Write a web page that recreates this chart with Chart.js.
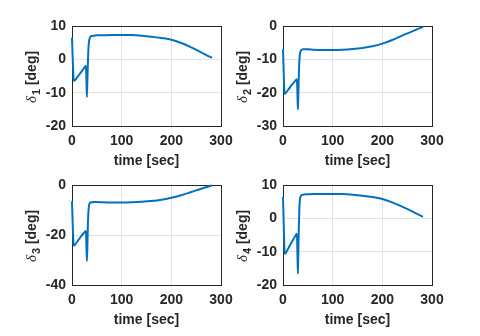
<!DOCTYPE html>
<html>
<head>
<meta charset="utf-8">
<script src="https://cdn.jsdelivr.net/npm/chart.js@4"></script>
<style>
  body { margin: 0; background: #fff; }
  #wrap { position: relative; width: 480px; height: 336px; overflow: hidden; }
  .box { position: absolute; width: 240px; height: 174px; }
</style>
</head>
<body>
<div id="wrap">
  <div class="box" style="left:0px;top:0px"><canvas id="c1"></canvas></div>
  <div class="box" style="left:211px;top:0px"><canvas id="c2"></canvas></div>
  <div class="box" style="left:0px;top:159px"><canvas id="c3"></canvas></div>
  <div class="box" style="left:211px;top:159px"><canvas id="c4"></canvas></div>
</div>
<script>
// tiempos (sec) y deflexiones (deg)
var times  = [0, 1, 2, 3, 4, 5, 7, 10, 14, 18, 22, 26, 28, 29, 30, 31, 32, 33, 34, 35, 36, 38, 40, 45, 50, 60, 80, 100, 120, 140, 160, 180, 200, 220, 240, 260, 280, 282];
var delta1 = [6.5, 2, -2, -5.5, -6.4, -6.4, -6.1, -5.5, -4.7, -3.9, -3.1, -2.3, -2, -6, -11.3, -6, -1, 3, 5, 6, 6.5, 6.9, 7.0, 7.1, 7.2, 7.2, 7.3, 7.3, 7.3, 7.1, 6.8, 6.4, 5.9, 4.9, 3.6, 2.1, 0.6, 0.5];
var delta2 = [-7, -12, -17, -20, -20.3, -20.2, -19.8, -19.2, -18.4, -17.6, -16.9, -16.2, -16, -20, -25, -20, -14, -10.5, -8.5, -7.8, -7.4, -7.1, -7.0, -7.0, -7.0, -7.1, -7.2, -7.2, -7.1, -6.9, -6.6, -6.1, -5.3, -4.2, -2.9, -1.6, -0.4, -0.3];
var delta3 = [-6.5, -13, -19, -23.5, -24.2, -24.1, -23.6, -22.8, -21.7, -20.6, -19.6, -18.7, -18.4, -24, -30.4, -24, -16, -11, -8.5, -7.6, -7.2, -7.0, -6.9, -6.8, -6.8, -6.9, -7.0, -7.0, -6.9, -6.7, -6.4, -5.9, -5.1, -4.1, -2.8, -1.5, -0.3, -0.2];
var delta4 = [6.5, 1, -5, -9.8, -10.6, -10.5, -10, -9.2, -8.1, -7, -6, -5, -4.6, -10, -16.6, -9, -2, 3, 5.5, 6.4, 6.8, 7.0, 7.1, 7.2, 7.2, 7.3, 7.3, 7.3, 7.3, 7.1, 6.8, 6.4, 5.8, 4.8, 3.5, 2.1, 0.6, 0.5];

var ySubs = ['1', '2', '3', '4'];
var yMins = [-20, -30, -40, -20];
var yMaxs = [10, 0, 0, 10];
var ySteps = [10, 10, 20, 10];
var xLabel = 'time [sec]';

var familia = "'Liberation Sans', Arial, sans-serif";
var fuente = { family: familia, size: 14, weight: 'bold' };

// marco (box on) debajo de la curva
var marco = {
    id: 'marco',
    beforeDatasetsDraw: function(chart) {
        var a = chart.chartArea;
        var ctx = chart.ctx;
        ctx.save();
        ctx.strokeStyle = '#262626';
        ctx.lineWidth = 1;
        ctx.strokeRect(a.left + 0.5, a.top + 0.5, a.right - a.left, a.bottom - a.top);
        ctx.restore();
    }
};

// etiqueta del eje y con subindice: delta_k [deg]
var tituloY = {
    id: 'tituloY',
    afterDraw: function(chart) {
        var a = chart.chartArea;
        var ctx = chart.ctx;
        var sub = chart.options.plugins.tituloY.sub;
        ctx.save();
        ctx.translate(a.left - 41, (a.top + a.bottom) / 2 + 1);
        ctx.rotate(-Math.PI / 2);
        ctx.fillStyle = '#262626';
        ctx.textBaseline = 'alphabetic';
        ctx.font = 'italic 15px "Liberation Serif", serif';
        var w1 = ctx.measureText('\u03B4').width;
        ctx.font = 'bold 11px ' + familia;
        var w2 = ctx.measureText(sub).width;
        ctx.font = 'bold 14px ' + familia;
        var w3 = ctx.measureText(' [deg]').width;
        var x = -(w1 + w2 + 1 + w3) / 2;
        ctx.font = 'italic 15px "Liberation Serif", serif';
        ctx.fillText('\u03B4', x, 5);
        ctx.font = 'bold 11px ' + familia;
        ctx.fillText(sub, x + w1 + 1, 9);
        ctx.font = 'bold 14px ' + familia;
        ctx.fillText(' [deg]', x + w1 + 1 + w2, 5);
        ctx.restore();
    }
};

function createLineChart(id, values, k) {
    var puntos = times.map(function(t, i) { return { x: t, y: values[i] }; });
    new Chart(document.getElementById(id), {
        type: 'line',
        data: {
            datasets: [{
                data: puntos,
                borderColor: '#0072BD',
                borderWidth: 2,
                pointRadius: 0,
                cubicInterpolationMode: 'monotone',
                fill: false,
                clip: 3
            }]
        },
        options: {
            animation: false,
            responsive: true,
            maintainAspectRatio: false,
            layout: { padding: { left: 0, top: 26, right: 19, bottom: 6 } },
            plugins: { legend: { display: false }, tooltip: { enabled: false }, tituloY: { sub: ySubs[k] } },
            scales: {
                x: {
                    type: 'linear',
                    min: 0, max: 300,
                    afterFit: function(s) { s.height = 42; },
                    ticks: { stepSize: 100, color: '#262626', font: fuente, padding: 7, maxRotation: 0 },
                    grid: { color: '#e3e3e3', drawTicks: false },
                    border: { display: false },
                    title: { display: true, text: xLabel, color: '#262626', font: fuente, padding: { top: 0, bottom: -2 } }
                },
                y: {
                    min: yMins[k], max: yMaxs[k],
                    afterFit: function(s) { s.width = 72; },
                    ticks: { stepSize: ySteps[k], color: '#262626', font: fuente, padding: 6 },
                    grid: { color: '#e3e3e3', drawTicks: false },
                    border: { display: false }
                }
            }
        },
        plugins: [marco, tituloY]
    });
}

createLineChart('c1', delta1, 0);
createLineChart('c2', delta2, 1);
createLineChart('c3', delta3, 2);
createLineChart('c4', delta4, 3);
</script>
</body>
</html>
